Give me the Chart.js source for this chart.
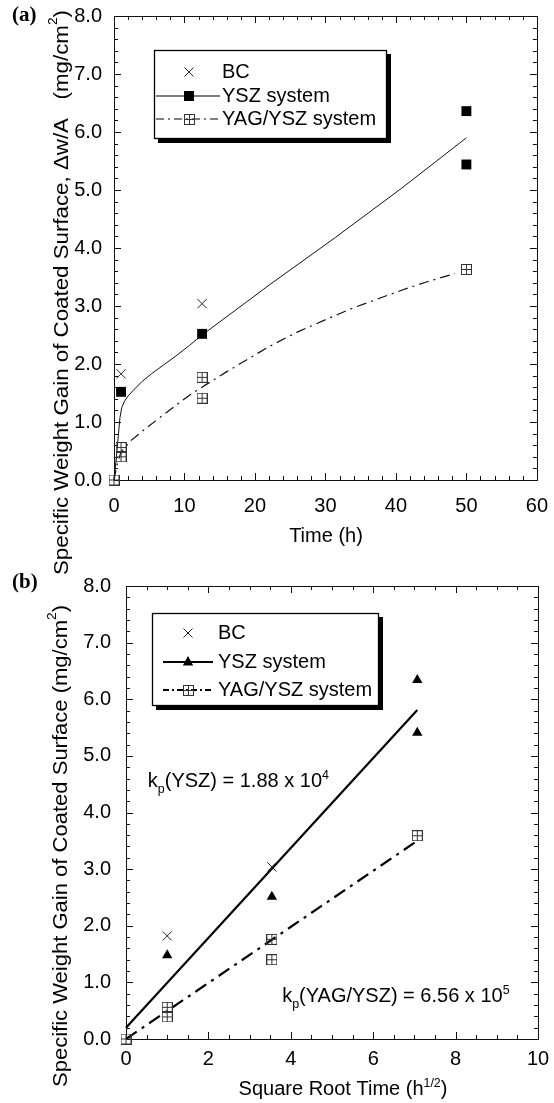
<!DOCTYPE html>
<html><head><meta charset="utf-8">
<script src="https://cdn.jsdelivr.net/npm/chart.js@4.4.0/dist/chart.umd.min.js"></script>
<style>
html,body{margin:0;padding:0;background:#fff;}
#wrap{position:relative;width:554px;height:1103px;overflow:hidden;}
canvas{position:absolute;left:0;}
#ca{top:0;}
#cb{top:560px;}
</style></head><body>
<div id="wrap">
<canvas id="ca" width="554" height="580"></canvas>
<canvas id="cb" width="554" height="543"></canvas>
</div>
<script>
// ---------- Panel (a): weight gain vs time (h) ----------
const bcTimeA = [1, 12.5];
const bcGainA = [1.83, 3.04];
const yszTimeA = [1, 12.5, 50, 50];
const yszGainA = [1.52, 2.52, 6.36, 5.44];
const yagTimeA = [0, 1, 1, 12.5, 12.5, 50];
const yagGainA = [0, 0.56, 0.40, 1.77, 1.41, 3.63];
const yszCurveTimeA = [0, 0.3, 0.6, 0.85, 1.1, 1.5, 2.0, 2.7, 4.0, 5.3, 7.0, 8.8, 10.7, 12.5, 18.7, 22, 31.4, 40.8, 50];
const yszCurveGainA = [0, 0.35, 0.75, 1.08, 1.25, 1.36, 1.45, 1.54, 1.70, 1.83, 1.98, 2.14, 2.32, 2.50, 3.06, 3.36, 4.18, 5.03, 5.90];
const yagCurveTimeA = [0, 0.5, 1, 2.4, 4.1, 7.4, 10.9, 13, 15.9, 19.2, 22, 26, 30.5, 34, 37.6, 41, 44.2, 48.4];
const yagCurveGainA = [0, 0.30, 0.48, 0.68, 0.85, 1.16, 1.48, 1.64, 1.86, 2.10, 2.30, 2.55, 2.79, 2.97, 3.13, 3.28, 3.41, 3.56];
const xTicksA = [0, 10, 20, 30, 40, 50, 60];
const yTicks = [0, 1, 2, 3, 4, 5, 6, 7, 8];

// ---------- Panel (b): weight gain vs square root time ----------
const bcRootB = [1, 3.54];
const bcGainB = [1.82, 3.04];
const yszRootB = [1, 3.54, 7.07, 7.07];
const yszGainB = [1.48, 2.51, 6.34, 5.41];
const yagRootB = [0, 1, 1, 3.54, 3.54, 7.07];
const yagGainB = [0, 0.56, 0.39, 1.76, 1.40, 3.59];
const yszFitRootB = [0, 7.07];
const yszFitGainB = [0.2, 5.81];
const yagFitRootB = [0, 7.07];
const yagFitGainB = [0, 3.5];
const xTicksB = [0, 2, 4, 6, 8, 10];

const labels = ['BC', 'YSZ system', 'YAG/YSZ system'];
const FONT = '"Liberation Sans", Arial, Helvetica, sans-serif';

function pts(xs, ys) { return xs.map((x, i) => ({x: x, y: ys[i]})); }

function makeBoxImg(size, color) {
  const c = document.createElement('canvas');
  c.width = size; c.height = size;
  const g = c.getContext('2d');
  g.strokeStyle = color; g.lineWidth = 1;
  g.strokeRect(0.5, 0.5, size - 1, size - 1);
  const m = Math.floor(size / 2) + 0.5;
  g.beginPath(); g.moveTo(m, 0); g.lineTo(m, size); g.moveTo(0, m); g.lineTo(size, m); g.stroke();
  return c;
}
const boxA = makeBoxImg(11, '#333');
const boxB = makeBoxImg(11, '#333');

function drawRich(ctx, parts, x, y, size, measureOnly) {
  let cx = x;
  for (const [t, k] of parts) {
    const fs = k ? size * 0.62 : size;
    ctx.font = fs + 'px ' + FONT;
    const dy = k === 1 ? -size * 0.42 : (k === -1 ? size * 0.3 : 0);
    if (!measureOnly) ctx.fillText(t, cx, y + dy);
    cx += ctx.measureText(t).width;
  }
  return cx - x;
}

const frameTicks = {
  id: 'frameTicks',
  beforeDatasetsDraw(chart, args, o) {
    const {ctx, chartArea: a, scales: {x, y}} = chart;
    ctx.save();
    ctx.strokeStyle = '#111'; ctx.lineWidth = 1;
    ctx.strokeRect(Math.round(a.left) + 0.5, Math.round(a.top) + 0.5, Math.round(a.right - a.left), Math.round(a.bottom - a.top));
    ctx.beginPath();
    const nx = Math.round((x.max - x.min) / o.xMinor);
    for (let i = 0; i <= nx; i++) {
      const v = x.min + i * o.xMinor;
      const r = v / o.xMajor;
      const len = Math.abs(r - Math.round(r)) < 1e-6 ? 7 : 4;
      const px = Math.round(x.getPixelForValue(v)) + 0.5;
      ctx.moveTo(px, a.bottom); ctx.lineTo(px, a.bottom - len);
      ctx.moveTo(px, a.top); ctx.lineTo(px, a.top + len);
    }
    const ny = Math.round((y.max - y.min) / o.yMinor);
    for (let i = 0; i <= ny; i++) {
      const v = y.min + i * o.yMinor;
      const r = v / o.yMajor;
      const len = Math.abs(r - Math.round(r)) < 1e-6 ? 7 : 4;
      const py = Math.round(y.getPixelForValue(v)) + 0.5;
      ctx.moveTo(a.left, py); ctx.lineTo(a.left + len, py);
      ctx.moveTo(a.right, py); ctx.lineTo(a.right - len, py);
    }
    ctx.stroke();
    ctx.restore();
  }
};

function drawMarker(ctx, kind, x, y) {
  ctx.save();
  if (kind === 'x') {
    ctx.strokeStyle = '#222'; ctx.lineWidth = 1;
    ctx.beginPath(); ctx.moveTo(x - 4.5, y - 4.5); ctx.lineTo(x + 4.5, y + 4.5);
    ctx.moveTo(x - 4.5, y + 4.5); ctx.lineTo(x + 4.5, y - 4.5); ctx.stroke();
  } else if (kind === 'sq') {
    ctx.fillStyle = '#000'; ctx.fillRect(x - 5, y - 5, 10, 10);
  } else if (kind === 'tri') {
    ctx.fillStyle = '#000'; ctx.beginPath();
    ctx.moveTo(x, y - 6); ctx.lineTo(x + 5.2, y + 3.5); ctx.lineTo(x - 5.2, y + 3.5); ctx.closePath(); ctx.fill();
  } else if (kind === 'box') {
    ctx.drawImage(boxA, Math.round(x - 5.5), Math.round(y - 5.5));
  }
  ctx.restore();
}

const deco = {
  id: 'deco',
  afterDraw(chart, args, o) {
    const ctx = chart.ctx;
    const {x: xs, y: ys} = chart.scales;
    ctx.save();
    ctx.fillStyle = '#000';
    ctx.textBaseline = 'alphabetic';
    ctx.textAlign = 'left';
    ctx.font = 'bold 21px "Liberation Serif", "Times New Roman", serif';
    ctx.fillText(o.panel[0], o.panel[1], o.panel[2]);
    const w = drawRich(ctx, o.xTitle, 0, 0, o.fs, true);
    drawRich(ctx, o.xTitle, o.xTitlePos[0] - w / 2, o.xTitlePos[1], o.fs);
    const wy = drawRich(ctx, o.yTitle, 0, 0, o.fs, true);
    ctx.save();
    ctx.translate(o.yTitlePos[0], o.yTitlePos[1]);
    ctx.rotate(-Math.PI / 2);
    const s = o.yTitleLen / wy;
    ctx.scale(s, 1);
    ctx.textBaseline = 'middle';
    drawRich(ctx, o.yTitle, 0, 0, o.fs);
    ctx.restore();
    ctx.textBaseline = 'alphabetic';
    for (const an of (o.notes || [])) {
      drawRich(ctx, an.parts, xs.getPixelForValue(an.x), ys.getPixelForValue(an.y), o.fs);
    }
    const L = o.legend;
    const [x0, y0, x1, y1] = L.box;
    ctx.fillStyle = '#000';
    ctx.fillRect(x0 + 4, y0 + 4, x1 - x0, y1 - y0);
    ctx.fillStyle = '#fff';
    ctx.fillRect(x0, y0, x1 - x0, y1 - y0);
    ctx.strokeStyle = '#000'; ctx.lineWidth = 1.3;
    ctx.strokeRect(x0 + 0.5, y0 + 0.5, x1 - x0 - 1, y1 - y0 - 1);
    const ds = chart.data.datasets;
    L.rows.forEach((r, i) => {
      if (r.line) {
        ctx.save();
        ctx.strokeStyle = '#000'; ctx.lineWidth = r.lw;
        ctx.setLineDash(r.dash || []);
        ctx.beginPath(); ctx.moveTo(L.lx0, r.y); ctx.lineTo(L.lx1, r.y); ctx.stroke();
        ctx.restore();
      }
      drawMarker(ctx, r.marker, L.mx, r.y);
      ctx.fillStyle = '#000';
      ctx.font = o.fs + 'px ' + FONT;
      ctx.textBaseline = 'middle';
      ctx.fillText(ds[i].label, L.tx, r.y);
    });
    ctx.restore();
  }
};

function tickFont() { return {family: FONT, size: 20}; }

// ---------- Chart (a) ----------
new Chart(document.getElementById('ca'), {
  type: 'scatter',
  data: {datasets: [
    {label: labels[0], data: pts(bcTimeA, bcGainA), pointStyle: 'crossRot', pointRadius: 6.5, borderColor: '#222', borderWidth: 1, clip: false},
    {label: labels[1], data: pts(yszTimeA, yszGainA), pointStyle: 'rect', pointRadius: 7, backgroundColor: '#000', borderColor: '#000', borderWidth: 0, clip: false},
    {label: labels[2], data: pts(yagTimeA, yagGainA), pointStyle: boxA, clip: false},
    {label: 'YSZ curve', data: pts(yszCurveTimeA, yszCurveGainA), showLine: true, pointRadius: 0, borderColor: '#111', borderWidth: 1, tension: 0, clip: false},
    {label: 'YAG curve', data: pts(yagCurveTimeA, yagCurveGainA), showLine: true, pointRadius: 0, borderColor: '#111', borderWidth: 1.2, borderDash: [10, 5, 2, 5], tension: 0, clip: false}
  ]},
  options: {
    responsive: false, animation: false, events: [],
    layout: {padding: {top: 13, right: 16, left: 0, bottom: 0}},
    plugins: {
      legend: {display: false}, tooltip: {enabled: false},
      frameTicks: {xMinor: 2, xMajor: 10, yMinor: 0.2, yMajor: 1},
      deco: {
        fs: 20,
        panel: ['(a)', 12, 21],
        xTitle: [['Time (h)', 0]], xTitlePos: [326, 542],
        yTitle: [['Specific Weight Gain of Coated Surface, \u0394w/A   (mg/cm', 0], ['2', 1], [')', 0]],
        yTitlePos: [62, 575], yTitleLen: 565,
        legend: {box: [154, 50, 387, 139], lx0: 156, lx1: 220, mx: 189, tx: 222,
          rows: [{y: 72, marker: 'x'}, {y: 96, marker: 'sq', line: true, lw: 1}, {y: 119, marker: 'box', line: true, lw: 1, dash: [8, 4, 2, 4]}]}
      }
    },
    scales: {
      x: {type: 'linear', min: 0, max: 60, afterFit: s => { s.height = 100; },
        afterBuildTicks: s => { s.ticks = xTicksA.map(v => ({value: v})); },
        grid: {display: false}, border: {display: false},
        ticks: {color: '#000', font: tickFont(), padding: 6, maxRotation: 0, autoSkip: false}},
      y: {type: 'linear', min: 0, max: 8, afterFit: s => { s.width = 114; },
        afterBuildTicks: s => { s.ticks = yTicks.map(v => ({value: v})); },
        grid: {display: false}, border: {display: false},
        ticks: {color: '#000', font: tickFont(), padding: 4, callback: v => Number(v).toFixed(1)}}
    }
  },
  plugins: [frameTicks, deco]
});

// ---------- Chart (b) ----------
new Chart(document.getElementById('cb'), {
  type: 'scatter',
  data: {datasets: [
    {label: labels[0], data: pts(bcRootB, bcGainB), pointStyle: 'crossRot', pointRadius: 6.5, borderColor: '#222', borderWidth: 1, clip: false},
    {label: labels[1], data: pts(yszRootB, yszGainB), pointStyle: 'triangle', pointRadius: 6, backgroundColor: '#000', borderColor: '#000', borderWidth: 0, clip: false},
    {label: labels[2], data: pts(yagRootB, yagGainB), pointStyle: boxB, clip: false},
    {label: 'YSZ fit', data: pts(yszFitRootB, yszFitGainB), showLine: true, pointRadius: 0, borderColor: '#000', borderWidth: 2.2, clip: false},
    {label: 'YAG fit', data: pts(yagFitRootB, yagFitGainB), showLine: true, pointRadius: 0, borderColor: '#000', borderWidth: 2.2, borderDash: [13, 6, 3, 6], clip: false}
  ]},
  options: {
    responsive: false, animation: false, events: [],
    layout: {padding: {top: 26, right: 16, left: 0, bottom: 0}},
    plugins: {
      legend: {display: false}, tooltip: {enabled: false},
      frameTicks: {xMinor: 0.5, xMajor: 2, yMinor: 0.2, yMajor: 1},
      deco: {
        fs: 20,
        panel: ['(b)', 12, 28],
        xTitle: [['Square Root Time (h', 0], ['1/2', 1], [')', 0]], xTitlePos: [343, 535],
        yTitle: [['Specific Weight Gain of Coated Surface (mg/cm', 0], ['2', 1], [')', 0]],
        yTitlePos: [61, 527], yTitleLen: 482,
        notes: [
          {x: 0.53, y: 4.45, parts: [['k', 0], ['p', -1], ['(YSZ) = 1.88 x 10', 0], ['4', 1]]},
          {x: 3.79, y: 0.65, parts: [['k', 0], ['p', -1], ['(YAG/YSZ) = 6.56 x 10', 0], ['5', 1]]}
        ],
        legend: {box: [152, 53, 379, 146], lx0: 163, lx1: 213, mx: 188, tx: 218,
          rows: [{y: 73, marker: 'x'}, {y: 102, marker: 'tri', line: true, lw: 2}, {y: 130, marker: 'box', line: true, lw: 2, dash: [6, 3, 2, 3]}]}
      }
    },
    scales: {
      x: {type: 'linear', min: 0, max: 10, afterFit: s => { s.height = 64; },
        afterBuildTicks: s => { s.ticks = xTicksB.map(v => ({value: v})); },
        grid: {display: false}, border: {display: false},
        ticks: {color: '#000', font: tickFont(), padding: 0, maxRotation: 0, autoSkip: false}},
      y: {type: 'linear', min: 0, max: 8, afterFit: s => { s.width = 126; },
        afterBuildTicks: s => { s.ticks = yTicks.map(v => ({value: v})); },
        grid: {display: false}, border: {display: false},
        ticks: {color: '#000', font: tickFont(), padding: 7, callback: v => Number(v).toFixed(1)}}
    }
  },
  plugins: [frameTicks, deco]
});
</script>
</body></html>
